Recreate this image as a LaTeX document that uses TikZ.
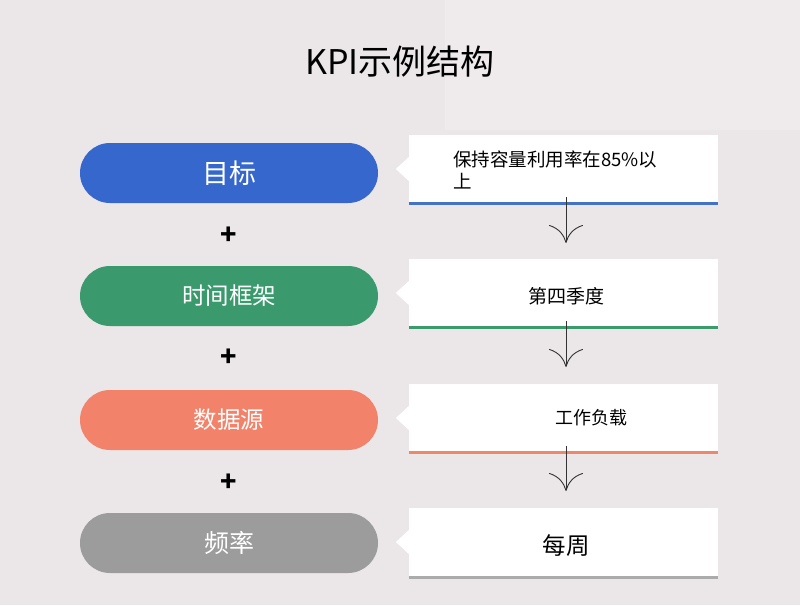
\documentclass[tikz,border=0pt]{standalone}
\usepackage{fontspec}
\setmainfont{Noto Sans CJK SC}
\usetikzlibrary{arrows.meta}
\definecolor{bgc}{HTML}{EBE6E8}
\definecolor{bgl}{HTML}{EFEAEC}
\definecolor{cblue}{HTML}{3567CD}
\definecolor{cgreen}{HTML}{3A9A6D}
\definecolor{corange}{HTML}{F2836A}
\definecolor{cgray}{HTML}{9C9C9C}
\definecolor{lblue}{HTML}{4472C4}
\definecolor{lgreen}{HTML}{3B9B6F}
\definecolor{lorange}{HTML}{EF8769}
\definecolor{lgray}{HTML}{ABABAB}
\begin{document}
\begin{tikzpicture}[x=1pt,y=-1pt,
  pill/.style={rectangle, rounded corners=30pt, minimum width=298pt, minimum height=60pt, inner sep=0pt, text=white},
  card/.style={rectangle, fill=white, minimum width=309pt, minimum height=68pt, inner sep=0pt},
  plus/.style={font=\fontsize{27}{27}\selectfont\bfseries, inner sep=0pt},
  flow/.style={draw=black!80, line width=0.9pt, -{Computer Modern Rightarrow[length=18pt,width=34pt]}},
  bar/.style={line width=3pt}
]
\useasboundingbox (0,0) rectangle (800,605);
\fill[bgc] (0,0) rectangle (800,605);
\fill[bgl] (445,0) rectangle (800,130);

\node[font=\fontsize{34}{34}\selectfont, inner sep=0pt] (title) at (400,62) {KPI示例结构};

% pills
\node[pill, fill=cblue, font=\fontsize{27}{27}\selectfont] (p1) at (229,173) {目标};
\node[pill, fill=cgreen, font=\fontsize{23.5}{23.5}\selectfont] (p2) at (229,296) {时间框架};
\node[pill, fill=corange, font=\fontsize{23.5}{23.5}\selectfont] (p3) at (229,420) {数据源};
\node[pill, fill=cgray, font=\fontsize{25}{25}\selectfont] (p4) at (229,543) {频率};

\node[plus] (s1) at (229,236) {+};
\node[plus] (s2) at (229,358) {+};
\node[plus] (s3) at (229,483) {+};

% cards
\node[card] (b1) at (563.5,169) {};
\node[card] (b2) at (563.5,293) {};
\node[card] (b3) at (563.5,418) {};
\node[card] (b4) at (563.5,542) {};
\foreach \b in {b1,b2,b3,b4}{
  \fill[white] ([yshift=-12pt]\b.west) -- ([xshift=-13pt]\b.west) -- ([yshift=12pt]\b.west) -- cycle;
}
\draw[bar, lblue] (b1.south west) -- (b1.south east);
\draw[bar, lgreen] (b2.south west) -- (b2.south east);
\draw[bar, lorange] (b3.south west) -- (b3.south east);
\draw[bar, lgray] ([yshift=-1pt]b4.south west) -- ([yshift=-1pt]b4.south east);

\node[anchor=north west, align=left, font=\fontsize{18.5}{22}\selectfont, inner sep=0pt] (t1) at (453,151) {保持容量利用率在85\%以\\上};
\node[font=\fontsize{19}{19}\selectfont, inner sep=0pt] (t2) at (566,296) {第四季度};
\node[font=\fontsize{18}{18}\selectfont, inner sep=0pt] (t3) at (591,418) {工作负载};
\node[font=\fontsize{23.5}{23.5}\selectfont, inner sep=0pt] (t4) at (566,546) {每周};

% arrows
\coordinate (a1) at (566,243);
\coordinate (a2) at (566,367);
\coordinate (a3) at (566,491);
\draw[flow] ([yshift=6pt]b1.south -| a1) -- (a1);
\draw[flow] ([yshift=6pt]b2.south -| a2) -- (a2);
\draw[flow] ([yshift=6pt]b3.south -| a3) -- (a3);
\end{tikzpicture}
\end{document}
